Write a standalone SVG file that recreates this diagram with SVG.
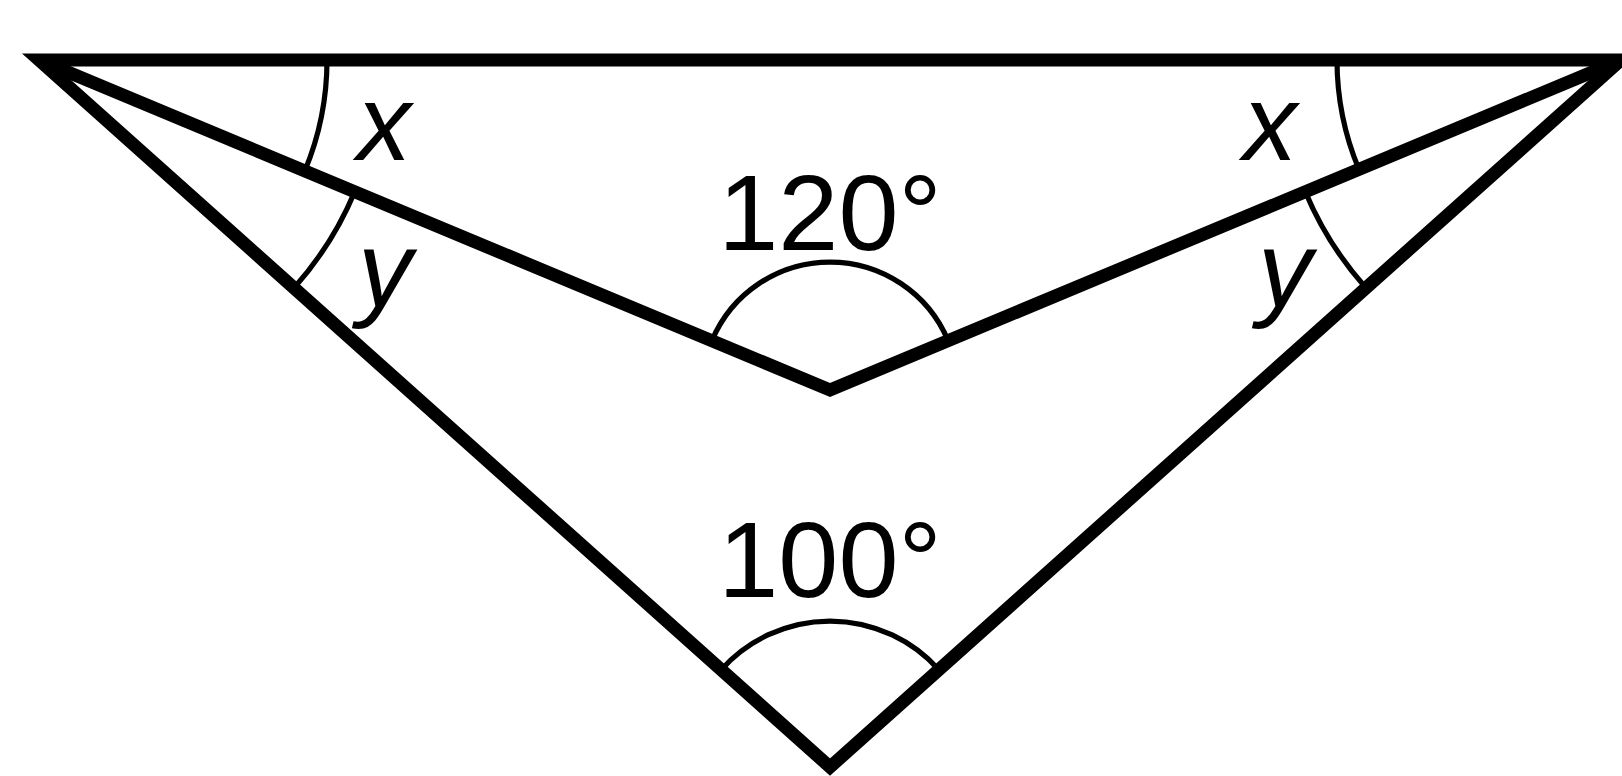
<svg xmlns="http://www.w3.org/2000/svg" width="1622" height="776" viewBox="0 0 1622 776">
<style>
.edge{fill:none;stroke:#000;stroke-width:13;stroke-linejoin:miter;stroke-miterlimit:10}
.arc{fill:none;stroke:#000;stroke-width:5.2}
.lbl{font-family:"Liberation Sans",Arial,sans-serif;fill:#000;text-anchor:middle}
.var{font-size:108px;font-style:italic}
.deg{font-size:108px}
</style>
<rect width="1622" height="776" fill="#fff"/>
<g id="connectors">
<polygon class="edge" points="39,60 1621,60 830,767"/>
<polyline class="edge" points="39,60 830,390 1621,60"/>
</g>
<g id="angle-x-left">
<path class="arc" d="M327,60 A288,288 0 0 1 304.8,170.9"/>
<text class="lbl var" x="384" y="160">x</text>
</g>
<g id="angle-y-left">
<path class="arc" d="M354.7,191.7 A342,342 0 0 1 294,287.9"/>
<text class="lbl var" x="385" y="307">y</text>
</g>
<g id="angle-x-right">
<path class="arc" d="M1337,60 A284,284 0 0 0 1358.9,169.3"/>
<text class="lbl var" x="1270" y="160">x</text>
</g>
<g id="angle-y-right">
<path class="arc" d="M1305.3,191.7 A342,342 0 0 0 1366,287.9"/>
<text class="lbl var" x="1285" y="307">y</text>
</g>
<g id="angle-120">
<path class="arc" d="M711.9,340.7 A128,128 0 0 1 948.1,340.7"/>
<text class="lbl deg" x="830" y="250">120°</text>
</g>
<g id="angle-100">
<path class="arc" d="M721.2,669.7 A146,146 0 0 1 938.8,669.7"/>
<text class="lbl deg" x="830" y="597">100°</text>
</g>
</svg>
